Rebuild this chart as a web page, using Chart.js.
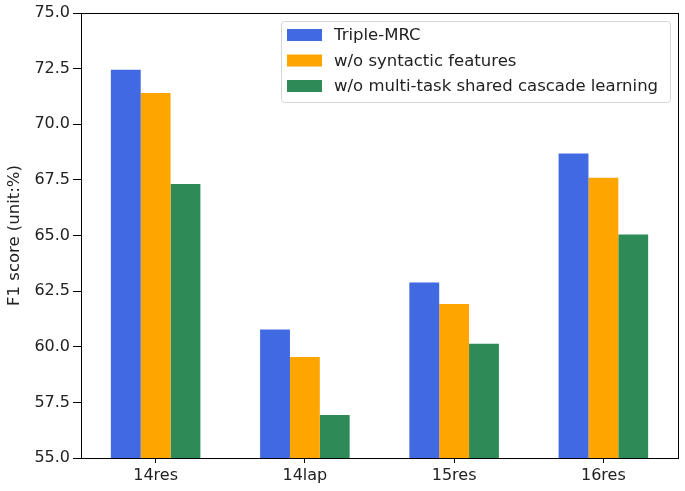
<!DOCTYPE html>
<html>
<head>
<meta charset="utf-8">
<script src="https://cdn.jsdelivr.net/npm/chart.js@4.4.0/dist/chart.umd.min.js"></script>
<style>
  html, body { margin: 0; padding: 0; background: #fff; }
  #wrap { width: 685px; height: 491px; position: relative; }
</style>
</head>
<body>
<div id="wrap"><canvas id="chart" width="685" height="491"></canvas></div>
<script>
const categories = ['14res', '14lap', '15res', '16res'];
const seriesNames = ['Triple-MRC', 'w/o syntactic features', 'w/o multi-task shared cascade learning'];
const tripleMrc = [72.45, 60.77, 62.89, 68.68];
const noSyntactic = [71.4, 59.54, 61.92, 67.6];
const noMultiTask = [67.32, 56.93, 60.14, 65.04];
const colors = ['#4169E1', '#FFA500', '#2E8B57'];

const FONT = 'DejaVu Sans';

// draws the box round the plot area
const frame = {
    id: 'frame',
    afterDraw(chart) {
        const { ctx, chartArea: a } = chart;
        ctx.save();
        ctx.strokeStyle = '#000';
        ctx.lineWidth = 1;
        ctx.strokeRect(Math.round(a.left) + 0.5, Math.round(a.top) + 0.5, Math.round(a.right - a.left), Math.round(a.bottom - a.top));
        ctx.restore();
    }
};

// matplotlib-style legend in the upper right, inside the plot
const boxLegend = {
    id: 'boxLegend',
    afterDraw(chart) {
        const { ctx } = chart;
        const x = 281, y = 21, w = 389, h = 81;
        ctx.save();
        ctx.fillStyle = 'rgba(255,255,255,0.85)';
        ctx.strokeStyle = '#d6d6d6';
        ctx.lineWidth = 1;
        ctx.beginPath();
        ctx.roundRect(x + 0.5, y + 0.5, w, h, 3);
        ctx.fill();
        ctx.stroke();
        ctx.font = '16.5px "' + FONT + '"';
        ctx.textBaseline = 'middle';
        chart.data.datasets.forEach((ds, i) => {
            const cy = y + 14 + i * 25.5;
            ctx.fillStyle = ds.backgroundColor;
            ctx.fillRect(x + 6, cy - 6, 35, 12);
            ctx.fillStyle = '#222';
            ctx.fillText(ds.label, x + 53, cy + 1);
        });
        ctx.restore();
    }
};

new Chart(document.getElementById('chart'), {
    type: 'bar',
    data: {
        labels: categories,
        datasets: [
            { label: seriesNames[0], data: tripleMrc, backgroundColor: colors[0] },
            { label: seriesNames[1], data: noSyntactic, backgroundColor: colors[1] },
            { label: seriesNames[2], data: noMultiTask, backgroundColor: colors[2] }
        ]
    },
    options: {
        responsive: false,
        animation: false,
        layout: { padding: { left: 0, top: 13, right: 7, bottom: 0 } },
        datasets: { bar: { categoryPercentage: 0.6, barPercentage: 1.0, borderWidth: 0 } },
        plugins: {
            legend: { display: false },
            tooltip: { enabled: false }
        },
        scales: {
            x: {
                offset: true,
                grid: { offset: false, drawOnChartArea: false, tickLength: 5, color: '#000' },
                border: { color: '#000' },
                ticks: { color: '#222', font: { family: FONT, size: 16 }, padding: 3 },
                afterFit(s) { s.height = 33; }
            },
            y: {
                min: 55,
                max: 75,
                grid: { drawOnChartArea: false, tickLength: 8, color: '#000' },
                border: { color: '#000' },
                ticks: {
                    stepSize: 2.5,
                    color: '#222',
                    font: { family: FONT, size: 16 },
                    padding: 3,
                    callback: v => v.toFixed(1)
                },
                title: {
                    display: true,
                    text: 'F1 score (unit:%)',
                    color: '#222',
                    font: { family: FONT, size: 16.5 },
                    padding: { top: 5, bottom: 2 }
                },
                afterFit(s) { s.width = 81; }
            }
        }
    },
    plugins: [frame, boxLegend]
});
</script>
</body>
</html>
